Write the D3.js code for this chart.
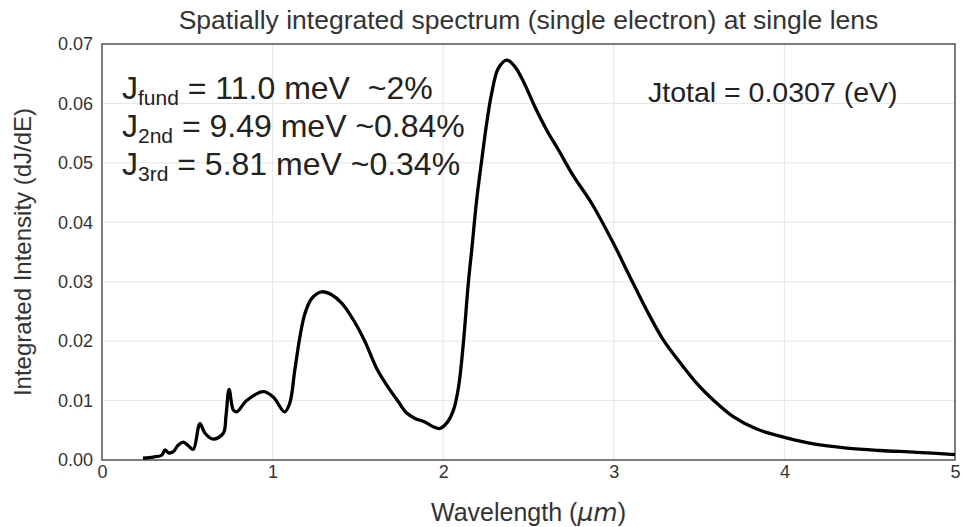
<!DOCTYPE html>
<html><head><meta charset="utf-8">
<script src="https://cdn.jsdelivr.net/npm/d3@7"></script>
<style>body{margin:0;background:#fff}svg{font-family:"Liberation Sans",Arial,sans-serif}text{white-space:pre}</style>
</head><body><svg id="c" width="963" height="527"></svg>
<script>
const wavelength = [0.24,0.30,0.35,0.37,0.39,0.418,0.438,0.447,0.477,0.506,0.535,0.574,0.604,0.652,0.711,0.727,0.745,0.77,0.79,0.848,0.946,1.004,1.07,1.10,1.13,1.16,1.19,1.23,1.288,1.346,1.405,1.473,1.542,1.61,1.669,1.737,1.786,1.835,1.893,1.942,1.98,2.02,2.06,2.09,2.118,2.147,2.167,2.196,2.226,2.255,2.284,2.323,2.372,2.42,2.47,2.538,2.607,2.675,2.763,2.87,2.997,3.095,3.193,3.29,3.388,3.486,3.583,3.70,3.838,4.0,4.17,4.365,4.56,4.775,5.0];
const intensity = [0.0003,0.0005,0.0008,0.0017,0.0012,0.0014,0.0022,0.0025,0.0030,0.0024,0.0018,0.0061,0.0045,0.0035,0.0045,0.0075,0.0119,0.0084,0.0081,0.0100,0.0115,0.0106,0.0081,0.0095,0.0151,0.0207,0.0247,0.0272,0.0283,0.0278,0.0264,0.0236,0.0199,0.0154,0.0126,0.0098,0.0079,0.0070,0.0064,0.0056,0.0053,0.0062,0.0084,0.0123,0.0196,0.0297,0.0353,0.0437,0.0505,0.0567,0.0617,0.0659,0.0673,0.0662,0.0637,0.0594,0.0555,0.0522,0.0478,0.0432,0.0365,0.0308,0.0252,0.0202,0.0164,0.0129,0.0101,0.0073,0.0052,0.0038,0.0027,0.0020,0.0016,0.0013,0.0009];
const xTicks = [0,1,2,3,4,5];
const yTicks = [0,0.01,0.02,0.03,0.04,0.05,0.06,0.07];
const titleText = "Spatially integrated spectrum (single electron) at single lens";
const annotLines = [["J","fund"," = 11.0 meV  ~2%"],["J","2nd"," = 9.49 meV ~0.84%"],["J","3rd"," = 5.81 meV ~0.34%"]];
const totalText = "Jtotal = 0.0307 (eV)";

const svg = d3.select("#c");
const L=102,R=955,T=44,B=460;
const x = d3.scaleLinear().domain([0,5]).range([L,R]);
const y = d3.scaleLinear().domain([0,0.07]).range([B,T]);

// grid
svg.append("g").selectAll("line").data(xTicks).join("line")
  .attr("x1",d=>x(d)).attr("x2",d=>x(d)).attr("y1",T).attr("y2",B)
  .attr("stroke","#e6e6e6").attr("stroke-width",1);
svg.append("g").selectAll("line").data(yTicks).join("line")
  .attr("x1",L).attr("x2",R).attr("y1",d=>y(d)).attr("y2",d=>y(d))
  .attr("stroke","#e6e6e6").attr("stroke-width",1);

// axes
const xa = svg.append("g").attr("transform",`translate(0,${B})`)
  .call(d3.axisBottom(x).tickValues(xTicks).tickFormat(d3.format("d")).tickSize(0).tickPadding(5));
const ya = svg.append("g").attr("transform",`translate(${L},0)`)
  .call(d3.axisLeft(y).tickValues(yTicks).tickFormat(d3.format(".2f")).tickSize(0).tickPadding(9));
[xa,ya].forEach(a=>{a.select(".domain").remove();a.selectAll("text").attr("font-size",18).attr("fill","#333").attr("font-family","Liberation Sans, Arial, sans-serif");});

// frame
svg.append("rect").attr("x",L).attr("y",T).attr("width",R-L).attr("height",B-T)
  .attr("fill","none").attr("stroke","#555").attr("stroke-width",1.5);

// line
const pts = wavelength.map((w,i)=>[w,intensity[i]]);
svg.append("path").datum(pts)
  .attr("d",d3.line().x(d=>x(d[0])).y(d=>y(d[1])).curve(d3.curveCatmullRom.alpha(0.5)))
  .attr("fill","none").attr("stroke","#000").attr("stroke-width",3.3).attr("stroke-linejoin","round");

// title
svg.append("text").attr("x",(L+R)/2).attr("y",29).attr("text-anchor","middle")
  .attr("font-size",26.5).attr("fill","#333").text(titleText);
// axis labels
svg.append("text").attr("x",(L+R)/2).attr("y",521).attr("text-anchor","middle")
  .attr("font-size",25).attr("fill","#333")
  .call(t=>{t.append("tspan").text("Wavelength (");t.append("tspan").attr("font-style","italic").attr("font-family","DejaVu Sans").attr("font-size",25).text("μm");t.append("tspan").text(")");});
svg.append("text").attr("transform",`translate(31,${(T+B)/2}) rotate(-90)`).attr("text-anchor","middle")
  .attr("font-size",24).attr("fill","#333").text("Integrated Intensity (dJ/dE)");

// annotations
const base=[99,137,175];
annotLines.forEach((ln,i)=>{
  const t=svg.append("text").attr("x",122).attr("y",base[i]).attr("font-size",32).attr("fill","#222");
  t.append("tspan").text(ln[0]);
  t.append("tspan").attr("font-size",21).attr("dy",6).text(ln[1]);
  t.append("tspan").attr("dy",-6).text(ln[2]);
});
svg.append("text").attr("x",648).attr("y",102).attr("font-size",28.5).attr("fill","#222").text(totalText);
</script></body></html>
